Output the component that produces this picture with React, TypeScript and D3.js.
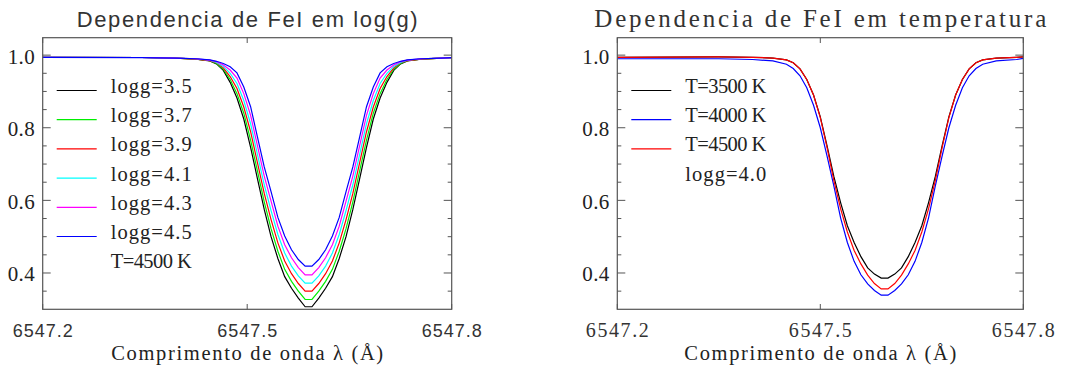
import React, { useEffect, useRef } from 'react';
import * as d3 from 'd3';

// wavelength grids (Angstrom)
const waveA = [6547.20, 6547.345, 6547.395, 6547.425, 6547.445, 6547.455, 6547.465, 6547.475, 6547.485, 6547.495, 6547.505, 6547.515, 6547.525, 6547.535, 6547.545, 6547.555, 6547.565, 6547.575, 6547.585, 6547.595, 6547.605, 6547.615, 6547.625, 6547.635, 6547.645, 6547.655, 6547.665, 6547.675, 6547.685, 6547.695, 6547.705, 6547.715, 6547.725, 6547.735, 6547.755, 6547.785, 6547.80];
const waveB = [6547.20, 6547.35, 6547.40, 6547.43, 6547.45, 6547.46, 6547.47, 6547.48, 6547.49, 6547.50, 6547.51, 6547.52, 6547.53, 6547.54, 6547.55, 6547.56, 6547.57, 6547.58, 6547.59, 6547.60, 6547.61, 6547.62, 6547.63, 6547.64, 6547.65, 6547.66, 6547.67, 6547.68, 6547.69, 6547.70, 6547.71, 6547.72, 6547.73, 6547.74, 6547.76, 6547.79, 6547.80];

// normalized flux, T=4500 K, different log g
const logg35 = [.994, .9935, .992, .989, .984, .976, .958, .925, .882, .824, .746, .660, .575, .500, .440, .390, .358, .331, .307, .307, .331, .358, .390, .440, .500, .575, .660, .746, .824, .882, .925, .958, .976, .984, .989, .992, .993];
const logg37 = [.994, .9935, .992, .989, .985, .977, .961, .933, .894, .840, .766, .681, .596, .522, .460, .410, .377, .350, .327, .327, .350, .377, .410, .460, .522, .596, .681, .766, .840, .894, .933, .961, .977, .985, .989, .992, .993];
const logg39 = [.994, .9935, .992, .989, .985, .979, .965, .941, .908, .857, .789, .704, .619, .547, .483, .433, .398, .371, .350, .350, .371, .398, .433, .483, .547, .619, .704, .789, .857, .908, .941, .965, .979, .985, .989, .992, .993];
const logg41 = [.994, .9935, .992, .990, .986, .980, .969, .950, .922, .875, .811, .727, .643, .572, .506, .455, .419, .392, .372, .372, .392, .419, .455, .506, .572, .643, .727, .811, .875, .922, .950, .969, .980, .986, .990, .992, .993];
const logg43 = [.994, .9935, .992, .990, .986, .982, .973, .959, .937, .894, .834, .751, .667, .598, .529, .478, .442, .415, .395, .395, .415, .442, .478, .529, .598, .667, .751, .834, .894, .937, .959, .973, .982, .986, .990, .992, .993];
const logg45 = [.994, .993, .992, .990, .987, .983, .977, .968, .951, .912, .858, .775, .692, .624, .553, .502, .464, .437, .419, .419, .437, .464, .502, .553, .624, .692, .775, .858, .912, .951, .968, .977, .983, .987, .990, .992, .993];

// normalized flux, logg=4.0, different temperature
const t3500 = [.994, .995, .994, .992, .987, .979, .962, .933, .890, .830, .750, .666, .594, .530, .484, .445, .414, .397, .386, .386, .397, .414, .445, .484, .530, .594, .666, .750, .830, .890, .933, .962, .979, .987, .992, .994, .995];
const t4000 = [.990, .990, .988, .984, .975, .963, .943, .910, .862, .800, .722, .640, .552, .484, .432, .395, .370, .352, .339, .339, .352, .370, .395, .432, .484, .552, .640, .722, .800, .862, .910, .943, .963, .975, .984, .988, .991];
const t4500 = [.994, .995, .994, .992, .987, .979, .962, .933, .890, .828, .745, .655, .577, .513, .462, .425, .394, .371, .356, .356, .371, .394, .425, .462, .513, .577, .655, .745, .828, .890, .933, .962, .979, .987, .992, .994, .995];

const loggLabels = ['logg=3.5', 'logg=3.7', 'logg=3.9', 'logg=4.1', 'logg=4.3', 'logg=4.5'];
const tempLabels = ['T=3500 K', 'T=4000 K', 'T=4500 K'];

const xTicks = [6547.2, 6547.5, 6547.8];
const yMajor = [0.4, 0.6, 0.8, 1.0];
const yMinor = [0.35, 0.45, 0.5, 0.55, 0.65, 0.7, 0.75, 0.85, 0.9, 0.95];

const serif = '"Liberation Serif", "DejaVu Serif", serif';
const sans = '"Liberation Sans", "DejaVu Sans", sans-serif';

function drawPanel(svg, p) {
  const x = d3.scaleLinear().domain([6547.2, 6547.8]).range([p.x0, p.x1]);
  const y = d3.scaleLinear().domain([0.3, 1.048]).range([309.3, 37.7]);
  const g = svg.append('g');

  const clipId = 'clip' + p.id;
  g.append('clipPath').attr('id', clipId)
    .append('rect').attr('x', p.x0).attr('y', 37.7).attr('width', p.x1 - p.x0).attr('height', 309.3 - 37.7);

  const line = d3.line().x(d => x(d[0])).y(d => y(d[1]));
  p.series.forEach(s => {
    g.append('path')
      .attr('clip-path', `url(#${clipId})`)
      .attr('d', line(p.wave.map((w, i) => [w, s.flux[i]])))
      .attr('fill', 'none')
      .attr('stroke', s.color)
      .attr('stroke-width', 1.2);
  });

  // frame
  g.append('rect')
    .attr('x', p.x0).attr('y', 37.7)
    .attr('width', p.x1 - p.x0).attr('height', 309.3 - 37.7)
    .attr('fill', 'none').attr('stroke', '#555').attr('stroke-width', 1.2);

  // y ticks both sides
  const yt = (vals, len) => vals.forEach(v => {
    g.append('line').attr('x1', p.x0).attr('x2', p.x0 + len).attr('y1', y(v)).attr('y2', y(v)).attr('stroke', '#555');
    g.append('line').attr('x1', p.x1).attr('x2', p.x1 - len).attr('y1', y(v)).attr('y2', y(v)).attr('stroke', '#555');
  });
  yt(yMajor, 8);
  yt(yMinor, 4);

  yMajor.forEach(v => {
    g.append('text').attr('x', p.x0 - 8).attr('y', y(v) + 8.5)
      .attr('text-anchor', 'end').attr('font-family', serif).attr('font-size', 21)
      .attr('fill', '#222').attr('textLength', 27).attr('lengthAdjust', 'spacing')
      .text(v.toFixed(1));
  });

  xTicks.forEach(v => {
    g.append('line').attr('x1', x(v)).attr('x2', x(v)).attr('y1', 309.3).attr('y2', 304).attr('stroke', '#555');
    g.append('line').attr('x1', x(v)).attr('x2', x(v)).attr('y1', 37.7).attr('y2', 43).attr('stroke', '#555');
    g.append('text').attr('x', x(v)).attr('y', 336.7)
      .attr('text-anchor', 'middle').attr('font-family', p.tickFont).attr('font-size', p.tickSize)
      .attr('fill', '#333').attr('textLength', p.tickLen).attr('lengthAdjust', 'spacing')
      .text(v.toFixed(1));
  });

  const cx = (p.x0 + p.x1) / 2;
  g.append('text').attr('x', cx).attr('y', 26.7)
    .attr('text-anchor', 'middle').attr('font-family', p.titleFont).attr('font-size', p.titleSize)
    .attr('fill', '#333').attr('textLength', p.titleLen).attr('lengthAdjust', 'spacing')
    .text(p.title);

  g.append('text').attr('x', cx).attr('y', 360)
    .attr('text-anchor', 'middle').attr('font-family', serif).attr('font-size', 20.5)
    .attr('fill', '#222').attr('textLength', 272).attr('lengthAdjust', 'spacing')
    .text('Comprimento de onda λ (Å)');

  // legend
  p.legend.forEach((item, i) => {
    const by = 93 + i * 29.2;
    if (item.color) {
      g.append('line').attr('x1', p.x0 + 14).attr('x2', p.x0 + 54)
        .attr('y1', by - 2.5).attr('y2', by - 2.5)
        .attr('stroke', item.color).attr('stroke-width', 1.2);
    }
    g.append('text').attr('x', p.x0 + 68).attr('y', by)
      .attr('font-family', serif).attr('font-size', 20.5).attr('fill', '#222')
      .attr('textLength', item.label.length > 8 ? 91 : 81).attr('lengthAdjust', 'spacing')
      .text(item.label);
  });
}

export default function App() {
  const ref = useRef(null);

  useEffect(() => {
    const svg = d3.select(ref.current);
    svg.selectAll('*').remove();

    const loggColors = ['#000000', '#00ee00', '#ff0000', '#00ffff', '#ff00ff', '#0000ff'];
    const loggFlux = [logg35, logg37, logg39, logg41, logg43, logg45];
    drawPanel(svg, {
      id: 'a', x0: 42.7, x1: 451.7, wave: waveA,
      series: loggFlux.map((f, i) => ({ flux: f, color: loggColors[i] })),
      title: 'Dependencia de FeI em log(g)', titleFont: sans, titleSize: 22, titleLen: 341,
      tickFont: sans, tickSize: 18, tickLen: 60,
      legend: [...loggLabels.map((l, i) => ({ label: l, color: loggColors[i] })), { label: 'T=4500 K' }],
    });

    const tColors = ['#000000', '#0000ff', '#ff0000'];
    drawPanel(svg, {
      id: 'b', x0: 617.3, x1: 1023.3, wave: waveB,
      series: [t3500, t4000, t4500].map((f, i) => ({ flux: f, color: tColors[i] })),
      title: 'Dependencia de FeI em temperatura', titleFont: serif, titleSize: 25, titleLen: 452,
      tickFont: serif, tickSize: 20, tickLen: 63,
      legend: [...tempLabels.map((l, i) => ({ label: l, color: tColors[i] })), { label: 'logg=4.0' }],
    });
  }, []);

  return (
    <svg ref={ref} width={1083} height={369}
      style={{ position: 'absolute', left: 0, top: 0, background: '#fff' }} />
  );
}
